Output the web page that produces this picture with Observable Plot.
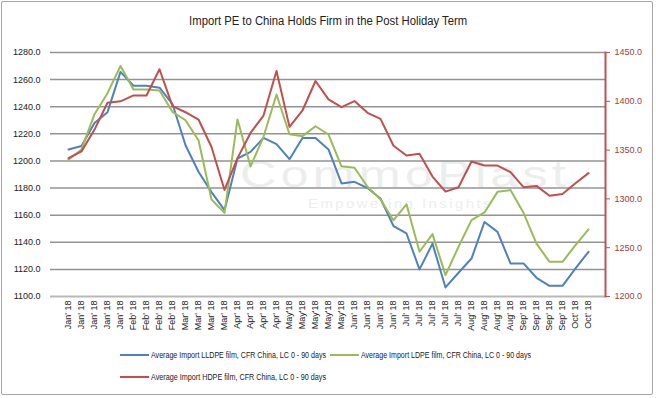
<!DOCTYPE html>
<html><head><meta charset="utf-8">
<script src="https://cdn.jsdelivr.net/npm/d3@7"></script>
<script src="https://cdn.jsdelivr.net/npm/@observablehq/plot@0.6"></script>
<style>
body{margin:0;background:#fff;}
#wrap{position:relative;width:656px;height:398px;overflow:hidden;font-family:"Liberation Sans",Arial,sans-serif;}
#frame{position:absolute;left:1px;top:1px;width:650px;height:392px;border:1.5px solid #a6a6a6;border-radius:2px;}
#title{position:absolute;left:0;top:14px;width:656px;text-align:center;font-family:"Liberation Sans",Arial,sans-serif;font-size:12.5px;color:#222;white-space:nowrap;}
#title span{display:inline-block;transform-origin:center center;}
.wm{position:absolute;font-family:"Liberation Sans",Arial,sans-serif;color:#eceeee;white-space:nowrap;transform-origin:left center;}
#wm1{left:240px;top:157px;font-size:36px;line-height:36px;letter-spacing:3px;}
#wm2{left:308px;top:198px;font-size:12px;line-height:12px;letter-spacing:2px;}
#chart{position:absolute;left:0;top:0;}
.leg{position:absolute;font-family:"Liberation Sans",Arial,sans-serif;font-size:8.5px;color:#1a1a1a;display:flex;align-items:center;white-space:nowrap;height:10px;}
.sw{width:29px;height:2.5px;margin-right:1.5px;flex:none;}
.lt{display:inline-block;transform-origin:left center;}
</style></head>
<body>
<div id="wrap">
  <div id="wm1" class="wm">CommoPlast</div>
  <div id="wm2" class="wm">Empowering Insights</div>
  <div id="chart"></div>
  <div id="title"><span>Import PE to China Holds Firm in the Post Holiday Term</span></div>
  <div id="legend"></div>
  <div id="frame"></div>
</div>
<script>
const labels = [
  "Jan' 18","Jan' 18","Jan' 18","Jan' 18","Jan' 18",
  "Feb' 18","Feb' 18","Feb' 18","Feb' 18",
  "Mar' 18","Mar' 18","Mar' 18","Mar' 18",
  "Apr' 18","Apr' 18","Apr' 18","Apr' 18",
  "May'18","May'18","May'18","May'18","May'18",
  "Jun' 18","Jun' 18","Jun' 18","Jun' 18",
  "Jul' 18","Jul' 18","Jul' 18","Jul' 18","Jul' 18",
  "Aug' 18","Aug' 18","Aug' 18","Aug' 18",
  "Sep' 18","Sep' 18","Sep' 18","Sep' 18",
  "Oct' 18","Oct' 18"
];
const lldpe = [1208.5,1211,1228,1236,1265.7,1255.5,1255.5,1254,1242,1211.6,
  1192,1177,1163.7,1201.8,1206.7,1217,1212.4,1201.3,1217,1217,
  1208.5,1183.4,1184.6,1180,1172.3,1152,1146.5,1120,1139,1106.7,
  1117.5,1128,1155,1147.7,1124.4,1124.4,1113.8,1107.9,1107.9,1120.7,1133];
const ldpe = [1201,1208.5,1234.5,1250,1270,1252.7,1252.7,1252,1236.2,1230,
  1215.3,1171.6,1161.7,1230.6,1196,1217.8,1249,1219.7,1218.3,1225.6,
  1219.5,1196,1195,1181,1171.6,1156.3,1168,1133,1146,1115.8,
  1136.7,1156.3,1162,1177.2,1178.5,1161.7,1139,1125.6,1125.6,1137.9,1149.5];
const hdpe = [1341.8,1348.7,1371,1398.5,1400,1406,1406,1432.8,1395,1388.8,
  1381.3,1353.2,1309.2,1341.8,1367.6,1385.4,1431,1373.8,1390.6,1420.8,
  1401.9,1394,1400.2,1388.2,1382,1354.5,1344.5,1346.3,1322.9,1307.5,
  1312,1338.3,1334.2,1334.2,1327.4,1312,1313.3,1303.3,1305,1316,1326.4];
const leftTicks = [1100,1120,1140,1160,1180,1200,1220,1240,1260,1280];
const rightTicks = [1200,1250,1300,1350,1400,1450];
const seriesNames = [
  "Average Import LLDPE film, CFR China, LC 0 - 90 days",
  "Average Import LDPE film, CFR China, LC 0 - 90 days",
  "Average Import HDPE film, CFR China, LC 0 - 90 days"
];
const colors = ["#4f81bd","#9bbb59","#c0504d"];

const toL = v => 1100 + (v - 1200) * 180 / 250;
const fromL = y => 1200 + (y - 1100) * 250 / 180;
const idx = d3.range(labels.length);

const chart = Plot.plot({
  width: 656, height: 398,
  marginLeft: 50, marginRight: 51, marginTop: 52, marginBottom: 102,
  style: {background: "transparent", fontFamily: "'Liberation Sans', Arial, sans-serif", fontSize: "9px", color: "#222"},
  x: {type: "point", domain: idx, padding: 0.5},
  y: {domain: [1100, 1280]},
  marks: [
    Plot.ruleY(leftTicks.slice(1), {stroke: "#939393", strokeWidth: 1.5}),
    Plot.ruleY([1100], {stroke: "#b8b8b8", strokeWidth: 2}),
    Plot.axisY({ticks: leftTicks, tickSize: 0, tickPadding: 10, tickFormat: d => d.toFixed(1), label: null, fontSize: 9, fill: "#222"}),
    Plot.axisY({anchor: "right", ticks: rightTicks.map(toL), tickFormat: d => fromL(d).toFixed(1), tickSize: 4, tickPadding: 5, stroke: "#c0504d", fill: "#a0403c", label: null, fontSize: 9}),
    Plot.frame({anchor: "right", stroke: "#c0504d", strokeWidth: 2}),
    Plot.axisX({ticks: idx, tickRotate: -90, tickSize: 0, tickPadding: 4, tickFormat: i => labels[i], label: null, fontSize: 9, fill: "#222"}),
    Plot.line(lldpe, {x: (d, i) => i, y: d => d, stroke: colors[0], strokeWidth: 2}),
    Plot.line(ldpe, {x: (d, i) => i, y: d => d, stroke: colors[1], strokeWidth: 2}),
    Plot.line(hdpe, {x: (d, i) => i, y: d => toL(d), stroke: colors[2], strokeWidth: 2})
  ]
});
document.getElementById("chart").appendChild(chart);

function fitWidth(el, target) {
  const w = el.getBoundingClientRect().width;
  if (w > 0) el.style.transform = `scaleX(${target / w})`;
}

const legPos = [[120, 350], [330, 350], [120, 372]];
const legend = document.getElementById("legend");
seriesNames.forEach((name, k) => {
  const div = document.createElement("div");
  div.className = "leg";
  div.style.left = legPos[k][0] + "px";
  div.style.top = legPos[k][1] + "px";
  div.innerHTML = `<span class="sw" style="background:${colors[k]}"></span><span class="lt">${name}</span>`;
  legend.appendChild(div);
  fitWidth(div.querySelector(".lt"), k === 1 ? 170 : 175);
});
fitWidth(document.querySelector("#title span"), 278);
fitWidth(document.getElementById("wm1"), 330);
fitWidth(document.getElementById("wm2"), 185);
</script>
</body></html>
